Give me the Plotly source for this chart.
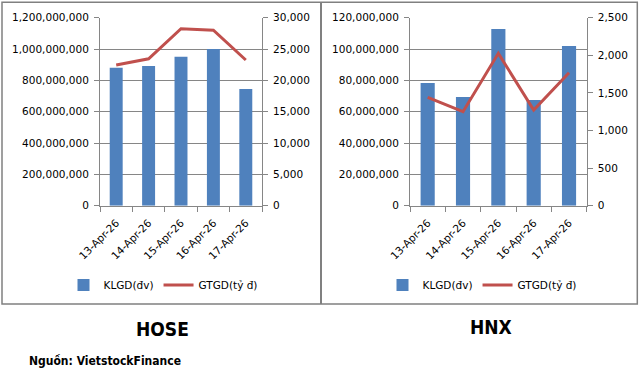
import plotly.graph_objects as go

dates = ["13-Apr-26", "14-Apr-26", "15-Apr-26", "16-Apr-26", "17-Apr-26"]
hose_klgd = [880_000_000, 892_000_000, 950_000_000, 1_000_000_000, 745_000_000]
hose_gtgd = [22450, 23450, 28250, 28000, 23250]
hnx_klgd = [78_300_000, 69_400_000, 112_800_000, 67_500_000, 101_900_000]
hnx_gtgd = [1441, 1250, 2026, 1273, 1769]

BAR = "#4F81BD"
LINE = "#C0504D"
GRID = "#868686"
W, H = 639, 373
FONT = "DejaVu Sans"
TFONT = "DejaVu Sans Condensed, Liberation Sans, sans-serif"

def px(x):
    return x / W

def py(y):
    return (H - y) / H

fig = go.Figure()

fig.add_trace(go.Bar(x=dates, y=hose_klgd, name="KLGD(đv)", marker_color=BAR,
                     width=0.4, xaxis="x", yaxis="y", legend="legend"))
fig.add_trace(go.Scatter(x=dates, y=hose_gtgd, name="GTGD(tỷ đ)", mode="lines",
                         line=dict(color=LINE, width=3), xaxis="x", yaxis="y2",
                         legend="legend"))
fig.add_trace(go.Bar(x=dates, y=hnx_klgd, name="KLGD(đv)", marker_color=BAR,
                     width=0.4, xaxis="x2", yaxis="y3", legend="legend2"))
fig.add_trace(go.Scatter(x=dates, y=hnx_gtgd, name="GTGD(tỷ đ)", mode="lines",
                         line=dict(color=LINE, width=3), xaxis="x2", yaxis="y4",
                         legend="legend2"))

tickfont = dict(family=FONT, size=10.5, color="#000000")

def xax(domain, anchor):
    return dict(domain=domain, anchor=anchor, type="category", range=[-0.5, 4.5],
                tickangle=-45, tickson="boundaries", ticks="outside", ticklen=5,
                tickcolor=GRID, showline=True, linecolor=GRID, linewidth=1,
                showgrid=False, tickfont=tickfont, fixedrange=True,
                automargin=False, ticklabelstandoff=6)

def yax_left(domain, anchor, rng, dtick):
    return dict(domain=domain, anchor=anchor, range=rng, dtick=dtick, tickformat=",",
                ticks="outside", ticklen=5, tickcolor=GRID, showline=True,
                linecolor=GRID, linewidth=1, showgrid=True, gridcolor=GRID,
                gridwidth=1, zeroline=False, tickfont=tickfont, ticklabelstandoff=3,
                automargin=False, fixedrange=True)

def yax_right(overlay, anchor, rng, dtick):
    return dict(overlaying=overlay, anchor=anchor, side="right", range=rng,
                dtick=dtick, tickformat=",", ticks="outside", ticklen=5,
                tickcolor=GRID, showline=True, linecolor=GRID, linewidth=1,
                showgrid=False, zeroline=False, tickfont=tickfont,
                ticklabelstandoff=3, automargin=False, fixedrange=True)

ydom = [py(205.7), py(17.7)]

fig.update_layout(
    template="none",
    width=W, height=H, autosize=False,
    margin=dict(l=0, r=0, t=0, b=0, pad=0, autoexpand=False),
    paper_bgcolor="white", plot_bgcolor="white",
    barmode="overlay",
    xaxis=xax([px(100), px(262)], "y"),
    yaxis=yax_left(ydom, "x", [0, 1.2e9], 2e8),
    yaxis2=yax_right("y", "x", [0, 30000], 5000),
    xaxis2=xax([px(410), px(586.7)], "y3"),
    yaxis3=yax_left(ydom, "x2", [0, 1.2e8], 2e7),
    yaxis4=yax_right("y3", "x2", [0, 2500], 500),
    legend=dict(orientation="h", x=px(163), xanchor="center", y=py(285),
                yanchor="middle", font=dict(family=FONT, size=10.5, color="#000"),
                itemwidth=30, bgcolor="rgba(0,0,0,0)", tracegroupgap=0),
    legend2=dict(orientation="h", x=px(482), xanchor="center", y=py(285),
                 yanchor="middle", font=dict(family=FONT, size=10.5, color="#000"),
                 itemwidth=30, bgcolor="rgba(0,0,0,0)", tracegroupgap=0),
    shapes=[
        dict(type="rect", xref="paper", yref="paper", x0=px(2), x1=px(637.3),
             y0=py(304), y1=py(2.3), line=dict(color="#808080", width=1.5)),
        dict(type="line", xref="paper", yref="paper", x0=px(321), x1=px(321),
             y0=py(304), y1=py(2.3), line=dict(color="#808080", width=2)),
    ],
    annotations=[
        dict(text="<b>HOSE</b>", x=px(162), y=py(328.5), xref="paper", yref="paper",
             showarrow=False, xanchor="center", yanchor="middle",
             font=dict(family=TFONT, size=19, color="#000")),
        dict(text="<b>HNX</b>", x=px(491), y=py(327), xref="paper", yref="paper",
             showarrow=False, xanchor="center", yanchor="middle",
             font=dict(family=TFONT, size=19, color="#000")),
        dict(text="<b>Nguồn: VietstockFinance</b>", x=px(27), y=py(361),
             xref="paper", yref="paper", showarrow=False, xanchor="left",
             yanchor="middle",
             font=dict(family=TFONT, size=12, color="#000")),
    ],
)

fig.write_html("out.html", config={"displayModeBar": False},
               post_script="document.body.style.margin='0';"
                           "document.body.style.padding='0';")
